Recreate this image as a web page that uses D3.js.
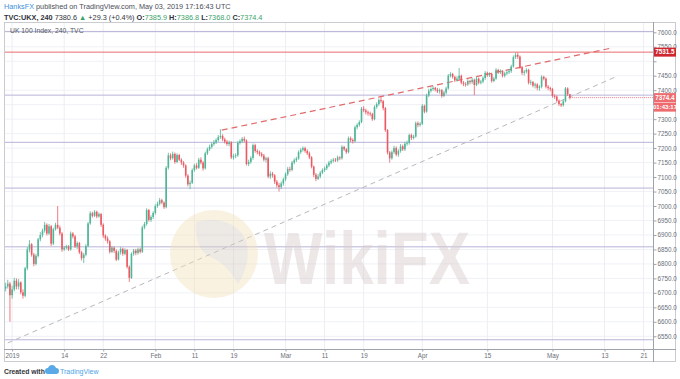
<!DOCTYPE html>
<html>
<head>
<meta charset="utf-8">
<title>UK 100 Index, 240, TVC</title>
<script src="https://cdn.jsdelivr.net/npm/d3@7"></script>
<style>
  body { margin: 0; background: #fff; }
  text { font-family: "Liberation Sans", Arial, sans-serif; }
</style>
</head>
<body>
<svg id="mainsvg" width="680" height="379"></svg>
<script>
// 4h candles, [open, high, low, close], Dec 28 2018 -> May 03 2019
const ohlc = [
  [6715,6735,6705,6722],[6722,6745,6715,6732],[6732,6738,6600,6692],[6692,6725,6680,6712],
  [6712,6752,6705,6742],[6742,6750,6712,6722],[6722,6748,6712,6736],[6736,6740,6695,6702],
  [6702,6712,6680,6690],[6690,6790,6685,6785],[6785,6858,6778,6850],[6850,6882,6840,6868],
  [6868,6872,6825,6832],[6832,6838,6792,6800],[6800,6835,6795,6828],[6828,6890,6822,6885],
  [6885,6910,6878,6900],[6900,6922,6892,6915],[6915,6945,6908,6935],[6935,6940,6898,6905],
  [6905,6938,6900,6930],[6930,6935,6862,6870],[6870,6925,6865,6920],[6920,6942,6915,6935],
  [6935,7000,6920,6925],[6925,6932,6898,6905],[6905,6910,6842,6850],[6850,6862,6845,6856],
  [6856,6866,6850,6860],[6860,6865,6845,6850],[6850,6912,6846,6905],[6905,6910,6888,6895],
  [6895,6900,6855,6860],[6860,6878,6852,6872],[6872,6876,6834,6840],[6840,6845,6812,6820],
  [6820,6838,6803,6832],[6832,6868,6826,6862],[6862,6945,6858,6940],[6940,6982,6935,6975],
  [6975,6980,6960,6966],[6966,6986,6962,6980],[6980,6984,6958,6964],[6964,6978,6960,6972],
  [6972,6976,6928,6935],[6935,6940,6890,6898],[6898,6902,6880,6888],[6888,6895,6870,6878],
  [6878,6882,6836,6842],[6842,6862,6838,6856],[6856,6860,6838,6845],[6845,6850,6810,6815],
  [6815,6846,6812,6840],[6840,6858,6832,6852],[6852,6856,6828,6835],[6835,6854,6830,6848],
  [6848,6852,6784,6790],[6790,6795,6738,6752],[6752,6840,6748,6835],[6835,6852,6828,6846],
  [6846,6852,6830,6838],[6838,6856,6832,6850],[6850,6856,6836,6842],[6842,6932,6838,6926],
  [6926,6945,6920,6938],[6938,6992,6932,6986],[6986,6990,6946,6952],[6952,6968,6945,6962],
  [6962,6982,6955,6976],[6976,7006,6970,7000],[7000,7015,6994,7008],[7008,7028,7002,7020],
  [7020,7025,7006,7012],[7012,7016,6990,6996],[6996,7138,6992,7132],[7132,7184,7126,7175],
  [7175,7182,7158,7165],[7165,7188,7160,7180],[7180,7185,7146,7152],[7152,7182,7148,7176],
  [7176,7180,7155,7160],[7160,7165,7142,7150],[7150,7155,7132,7140],[7140,7144,7098,7105],
  [7105,7110,7068,7075],[7075,7088,7058,7080],[7080,7130,7076,7124],[7124,7146,7118,7140],
  [7140,7148,7126,7132],[7132,7166,7128,7160],[7160,7168,7144,7150],[7150,7155,7122,7130],
  [7130,7188,7126,7182],[7182,7202,7176,7196],[7196,7212,7190,7204],[7204,7220,7198,7214],
  [7214,7228,7208,7220],[7220,7234,7214,7228],[7228,7245,7222,7238],[7238,7265,7232,7242],
  [7242,7248,7224,7230],[7230,7236,7216,7222],[7222,7228,7208,7214],[7214,7226,7206,7220],
  [7220,7224,7162,7168],[7168,7180,7160,7172],[7172,7182,7165,7175],[7175,7224,7170,7218],
  [7218,7230,7212,7224],[7224,7238,7218,7232],[7232,7240,7220,7226],[7226,7230,7140,7145],
  [7145,7160,7138,7152],[7152,7172,7146,7166],[7166,7216,7160,7210],[7210,7215,7184,7190],
  [7190,7196,7178,7186],[7186,7192,7172,7180],[7180,7186,7168,7174],[7174,7180,7154,7160],
  [7160,7170,7150,7165],[7165,7170,7096,7102],[7102,7120,7094,7112],[7112,7118,7098,7106],
  [7106,7110,7076,7084],[7084,7090,7064,7072],[7072,7080,7050,7066],[7066,7085,7058,7078],
  [7078,7098,7070,7092],[7092,7116,7086,7110],[7110,7135,7104,7128],[7128,7136,7118,7125],
  [7125,7156,7120,7150],[7150,7165,7144,7158],[7158,7170,7152,7164],[7164,7192,7160,7186],
  [7186,7200,7180,7194],[7194,7206,7188,7200],[7200,7205,7184,7190],[7190,7196,7176,7182],
  [7182,7188,7162,7168],[7168,7172,7130,7136],[7136,7140,7100,7108],[7108,7114,7086,7094],
  [7094,7110,7090,7102],[7102,7120,7096,7115],[7115,7130,7110,7124],[7124,7136,7118,7130],
  [7130,7146,7124,7140],[7140,7156,7134,7150],[7150,7162,7144,7156],[7156,7166,7150,7160],
  [7160,7166,7152,7158],[7158,7174,7152,7168],[7168,7172,7158,7165],[7165,7210,7160,7204],
  [7204,7208,7190,7196],[7196,7200,7180,7186],[7186,7240,7182,7234],[7234,7240,7220,7228],
  [7228,7234,7216,7224],[7224,7278,7220,7272],[7272,7286,7265,7280],[7280,7296,7274,7290],
  [7290,7342,7286,7336],[7336,7345,7324,7330],[7330,7336,7316,7324],[7324,7330,7312,7320],
  [7320,7326,7310,7318],[7318,7322,7294,7300],[7300,7348,7296,7342],[7342,7358,7336,7352],
  [7352,7372,7346,7366],[7366,7378,7355,7362],[7362,7366,7330,7338],[7338,7342,7256,7262],
  [7262,7266,7178,7185],[7185,7190,7150,7165],[7165,7192,7160,7186],[7186,7208,7180,7200],
  [7200,7206,7172,7178],[7178,7196,7170,7190],[7190,7214,7184,7206],[7206,7212,7190,7196],
  [7196,7222,7190,7215],[7215,7226,7208,7218],[7218,7250,7212,7245],[7245,7250,7228,7235],
  [7235,7246,7230,7240],[7240,7292,7236,7286],[7286,7292,7272,7280],[7280,7290,7274,7284],
  [7284,7352,7280,7346],[7346,7350,7320,7326],[7326,7388,7322,7382],[7382,7405,7376,7398],
  [7398,7410,7392,7404],[7404,7414,7398,7408],[7408,7412,7396,7402],[7402,7408,7390,7396],
  [7396,7406,7388,7400],[7400,7404,7374,7380],[7380,7398,7376,7392],[7392,7412,7386,7406],
  [7406,7456,7402,7450],[7450,7462,7444,7456],[7456,7460,7440,7446],[7446,7450,7428,7434],
  [7434,7448,7430,7440],[7440,7477,7436,7450],[7450,7454,7420,7426],[7426,7432,7414,7422],
  [7422,7428,7412,7420],[7420,7438,7415,7432],[7432,7436,7420,7428],[7428,7442,7422,7436],
  [7436,7440,7383,7418],[7418,7446,7414,7440],[7440,7444,7420,7426],[7426,7436,7420,7430],
  [7430,7448,7424,7442],[7442,7466,7436,7460],[7460,7464,7446,7452],[7452,7462,7446,7456],
  [7456,7460,7426,7432],[7432,7446,7428,7440],[7440,7476,7436,7470],[7470,7474,7456,7462],
  [7462,7472,7456,7466],[7466,7470,7444,7450],[7450,7464,7444,7458],[7458,7468,7452,7462],
  [7462,7472,7456,7466],[7466,7488,7460,7482],[7482,7520,7478,7514],[7514,7530,7508,7522],
  [7522,7530,7508,7516],[7516,7520,7474,7480],[7480,7484,7452,7460],[7460,7470,7450,7464],
  [7464,7476,7458,7470],[7470,7474,7420,7426],[7426,7436,7418,7428],[7428,7432,7410,7416],
  [7416,7426,7406,7420],[7420,7424,7400,7408],[7408,7418,7398,7412],[7412,7452,7406,7446],
  [7446,7450,7434,7440],[7440,7444,7406,7412],[7412,7418,7400,7408],[7408,7412,7396,7404],
  [7404,7408,7374,7380],[7380,7386,7370,7378],[7378,7382,7358,7364],[7364,7368,7346,7352],
  [7352,7356,7342,7348],[7348,7368,7344,7362],[7362,7411,7358,7406],[7406,7410,7380,7385.9],
  [7385.9,7386.8,7368.0,7374.4]
];

// time axis: bar index of each labelled day
const tickIndex  = [3, 27, 45, 69, 87, 105, 129, 147, 165, 192, 222, 252, 276, 294];
const tickLabels = ['2019','14','22','Feb','11','19','Mar','11','19','Apr','15','May','13','21'];
const priceTicks = [6550,6600,6650,6700,6750,6800,6850,6900,6950,7000,7050,7100,7150,
                    7200,7250,7300,7350,7400,7450,7500,7550,7600];

// drawn levels and trend lines
const levels = [7603, 7383, 7220, 7062, 6859, 6538];
const resistance = 7531.5;
const redTrend  = [[99.6, 7262], [279.4, 7546]];
const grayTrend = [[1, 6527], [282, 7449]];
const countdown = '01:43:17';

const svg = d3.select('#mainsvg');
const width = +svg.attr('width');
const plot = {left: 4, top: 22, right: 653, bottom: 349};
const up = '#4fb596', down = '#eb5a63';

svg.append('rect').attr('width', width).attr('height', 379).attr('fill', '#fff');

const x = d3.scaleLinear().domain([0, 294]).range([5.6, 643.6]);
const y = d3.scaleLinear().domain([6550, 7600]).range([336.3, 32.3]);

svg.append('clipPath').attr('id', 'clip')
  .append('rect').attr('x', plot.left).attr('y', plot.top)
  .attr('width', plot.right - plot.left).attr('height', plot.bottom - plot.top);

const g = svg.append('g').attr('clip-path', 'url(#clip)');

// grid
g.selectAll('.hgrid').data(priceTicks).join('line')
  .attr('x1', plot.left).attr('x2', plot.right)
  .attr('y1', d => y(d)).attr('y2', d => y(d))
  .attr('stroke', '#eff1f6').attr('stroke-width', 1);
g.selectAll('.vgrid').data(tickIndex).join('line')
  .attr('x1', d => x(d)).attr('x2', d => x(d))
  .attr('y1', plot.top).attr('y2', plot.bottom)
  .attr('stroke', '#eceef4').attr('stroke-width', 1);

// horizontal levels
g.selectAll('.level').data(levels).join('line')
  .attr('x1', plot.left).attr('x2', plot.right)
  .attr('y1', d => y(d)).attr('y2', d => y(d))
  .attr('stroke', '#b7b4d8').attr('stroke-width', 1);
g.append('line')
  .attr('x1', plot.left).attr('x2', plot.right)
  .attr('y1', y(resistance)).attr('y2', y(resistance))
  .attr('stroke', '#e8696f').attr('stroke-width', 1);

// trend lines
const tl = d3.line().x(d => x(d[0])).y(d => y(d[1]));
g.append('path').attr('d', tl(grayTrend)).attr('fill', 'none')
  .attr('stroke', '#b8b8b8').attr('stroke-width', 1).attr('stroke-dasharray', '5,4');
g.append('path').attr('d', tl(redTrend)).attr('fill', 'none')
  .attr('stroke', '#e06a6a').attr('stroke-width', 1.2).attr('stroke-dasharray', '6,4');

// candles
const candles = g.selectAll('.candle').data(ohlc).join('g');
candles.append('line')
  .attr('x1', (d, i) => x(i)).attr('x2', (d, i) => x(i))
  .attr('y1', d => y(d[1])).attr('y2', d => y(d[2]))
  .attr('stroke', d => d[3] >= d[0] ? up : down).attr('stroke-width', 0.8);
candles.append('rect')
  .attr('x', (d, i) => x(i) - 0.8).attr('width', 1.6)
  .attr('y', d => y(Math.max(d[0], d[3])))
  .attr('height', d => Math.max(0.8, Math.abs(y(d[0]) - y(d[3]))))
  .attr('fill', d => d[3] >= d[0] ? up : down);

// last price line
const last = ohlc[ohlc.length - 1];
g.append('line')
  .attr('x1', x(ohlc.length - 1)).attr('x2', plot.right)
  .attr('y1', y(last[3])).attr('y2', y(last[3]))
  .attr('stroke', down).attr('stroke-width', 0.8).attr('stroke-dasharray', '1,1');

// watermark
const wm = svg.append('g').attr('opacity', 0.45);
wm.append('circle').attr('cx', 214).attr('cy', 254).attr('r', 44).attr('fill', '#f4e3bd');
wm.append('path')
  .attr('d', 'M196,222 Q232,214 246,240 Q252,262 238,284 Q226,262 208,256 Q194,246 196,222 Z')
  .attr('fill', '#d9cfc6');
wm.append('text').text('WikiFX').attr('x', 264).attr('y', 284)
  .attr('font-size', 74).attr('font-weight', 'bold').attr('fill', '#d8cccc')
  .attr('textLength', 206).attr('lengthAdjust', 'spacingAndGlyphs');

// frame
svg.append('rect').attr('x', 4.5).attr('y', 22.5).attr('width', 671).attr('height', 339)
  .attr('fill', 'none').attr('stroke', '#c9cbd1');
svg.append('line').attr('x1', plot.right + 0.5).attr('x2', plot.right + 0.5)
  .attr('y1', plot.top).attr('y2', 362).attr('stroke', '#9ea2ab');
svg.append('line').attr('x1', plot.left).attr('x2', 676)
  .attr('y1', plot.bottom + 0.5).attr('y2', plot.bottom + 0.5).attr('stroke', '#9ea2ab');

// right price axis (labels under the price tags are hidden, as on the chart)
const tagged = [resistance, last[3]];
const yAxis = d3.axisRight(y).tickValues(priceTicks).tickFormat(d3.format('.1f')).tickSize(3);
const yg = svg.append('g').attr('transform', `translate(${plot.right + 0.5},0)`).call(yAxis);
yg.select('.domain').remove();
yg.selectAll('.tick line').attr('stroke', '#9ea2ab');
yg.selectAll('.tick text').attr('fill', '#6b6f78').attr('font-size', 6.3)
  .attr('x', 4).attr('font-family', '"Liberation Sans", Arial, sans-serif')
  .attr('display', d => tagged.some(t => y(d) - y(t) > -5 && y(d) - y(t) < 18) ? 'none' : null);

// bottom time axis
const xAxis = d3.axisBottom(x).tickValues(tickIndex).tickFormat((d, i) => tickLabels[i]).tickSize(2);
const xg = svg.append('g').attr('transform', `translate(0,${plot.bottom + 0.5})`).call(xAxis);
xg.select('.domain').remove();
xg.selectAll('.tick line').attr('stroke', '#9ea2ab');
xg.selectAll('.tick text').attr('fill', '#6b6f78').attr('font-size', 6.3).attr('y', 4)
  .attr('font-family', '"Liberation Sans", Arial, sans-serif');

// price labels on the axis
function priceTag(val, txt, fill) {
  svg.append('rect').attr('x', plot.right + 1).attr('y', y(val) - 4.5)
    .attr('width', 22).attr('height', 9).attr('fill', fill);
  svg.append('text').text(txt).attr('x', plot.right + 12).attr('y', y(val) + 2.3)
    .attr('text-anchor', 'middle').attr('font-size', 6.3).attr('font-weight', 'bold').attr('fill', '#fff');
}
priceTag(resistance, resistance.toFixed(1), '#d0262d');
priceTag(last[3], last[3].toFixed(1), '#ee6b6f');
svg.append('rect').attr('x', plot.right + 1).attr('y', y(last[3]) + 5)
  .attr('width', 22).attr('height', 9).attr('fill', '#ee6b6f');
svg.append('text').text(countdown).attr('x', plot.right + 12).attr('y', y(last[3]) + 11.8)
  .attr('text-anchor', 'middle').attr('font-size', 6).attr('font-weight', 'bold').attr('fill', '#fff');

// titles
svg.append('text').text('UK 100 Index, 240, TVC').attr('x', 10).attr('y', 33)
  .attr('font-size', 6.8).attr('fill', '#555a63');

const h1 = svg.append('text').attr('x', 4).attr('y', 9).attr('font-size', 7.3).attr('fill', '#4a4e57');
h1.append('tspan').text('HanksFX').attr('fill', '#3d8fd9');
h1.append('tspan').text(' published on TradingView.com, May 03, 2019 17:16:43 UTC');

const h2 = svg.append('text').attr('x', 4).attr('y', 19.5).attr('font-size', 7.3).attr('fill', '#2f333b');
h2.append('tspan').text('TVC:UKX, 240').attr('font-weight', 'bold');
h2.append('tspan').text('  7380.6 ');
h2.append('tspan').text('▲').attr('fill', '#3aa36c');
h2.append('tspan').text(' +29.3 (+0.4%) ');
h2.append('tspan').text(' O:').attr('font-weight', 'bold');
h2.append('tspan').text('7385.9 ').attr('fill', '#3aa36c');
h2.append('tspan').text('H:').attr('font-weight', 'bold');
h2.append('tspan').text('7386.8 ').attr('fill', '#3aa36c');
h2.append('tspan').text('L:').attr('font-weight', 'bold');
h2.append('tspan').text('7368.0 ').attr('fill', '#3aa36c');
h2.append('tspan').text('C:').attr('font-weight', 'bold');
h2.append('tspan').text('7374.4').attr('fill', '#3aa36c');

// footer
svg.append('text').text('Created with').attr('x', 4).attr('y', 374)
  .attr('font-size', 6.8).attr('font-weight', 'bold').attr('fill', '#2f333b');
svg.append('path')
  .attr('d', 'M48,374 q-3,0 -3,-3 q0,-3 3,-3 q1,-3 4,-3 q3,0 4,3 q3,0 3,3 q0,3 -3,3 Z')
  .attr('fill', '#5aa9e6');
svg.append('text').text('TradingView').attr('x', 60).attr('y', 374)
  .attr('font-size', 7).attr('fill', '#4aa3e8');
</script>
</body>
</html>
